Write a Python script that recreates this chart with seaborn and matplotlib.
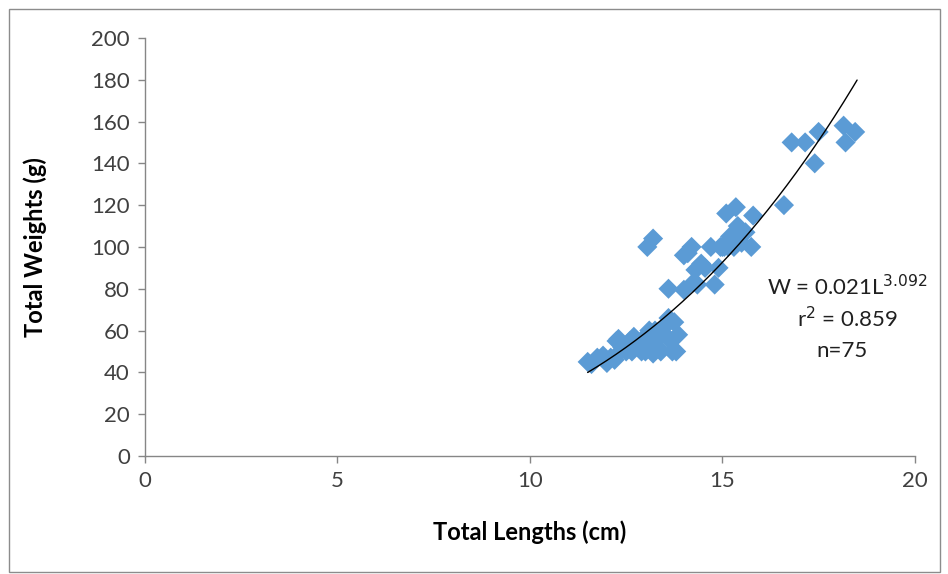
import matplotlib
matplotlib.use("Agg")
import matplotlib.pyplot as plt
import seaborn as sns
import numpy as np
import pandas as pd
from matplotlib.patches import Rectangle

# Data (Total length cm, Total weight g)
lengths = [11.5, 11.6, 11.75, 11.9, 12.0, 12.1, 12.2, 12.25, 12.3, 12.4,
           12.5, 12.6, 12.65, 12.7, 12.8, 12.9, 12.95, 13.0, 13.05, 13.1,
           13.1, 13.2, 13.2, 13.3, 13.4, 13.45, 13.5, 13.6, 13.65, 13.7,
           13.75, 13.8, 13.85, 13.05, 13.2, 13.6, 14.0, 14.0, 14.2, 14.3,
           14.35, 14.55, 14.7, 14.8, 14.9, 14.95, 15.05, 15.1, 15.15, 15.3,
           15.35, 15.4, 15.45, 15.6, 15.75, 15.8, 14.1, 14.45, 15.0, 15.5,
           16.6, 16.8, 17.15, 17.4, 17.5, 18.15, 18.2, 18.45, 12.35, 12.85,
           13.25, 13.55, 14.25, 15.2, 13.35]
weights = [45, 44, 47, 48, 44.5, 47, 46, 55, 56, 52,
           50, 55, 50, 57, 53, 50, 56, 50, 58, 55,
           60, 49, 50, 52, 50, 59, 62, 66, 55, 50,
           64, 50, 58, 100, 104, 80, 79.5, 96, 100, 89,
           82, 90, 100, 82, 90, 100, 100, 116, 100, 100,
           119, 110, 108, 107, 100, 115, 97, 92, 100, 102,
           120, 150, 150, 140, 155, 158, 150, 155, 50, 52,
           60, 63, 83, 105, 57]

# Power trendline as drawn in the reference (W = a * L^b)
curve_a, curve_b = 0.0176, 3.164
curve_start, curve_end = 11.5, 18.5
fit_x = np.linspace(curve_start, curve_end, 200)
fit_y = curve_a * fit_x ** curve_b

eq_lines = [r"W = 0.021L$^{3.092}$", r"r$^{2}$ = 0.859", "n=75"]

df = pd.DataFrame({"L": lengths, "W": weights})

sns.set_theme(style="white")
plt.rcParams['font.family'] = ['Lato', 'DejaVu Sans']

fig = plt.figure(figsize=(9.48, 5.74), dpi=100)
ax = fig.add_axes([0.153, 0.2056, 0.812, 0.7284])

sns.scatterplot(data=df, x="L", y="W", ax=ax, marker="D", s=105,
                color="#5B9BD5", edgecolor="none", linewidth=0, zorder=2)
sns.lineplot(x=fit_x, y=fit_y, ax=ax, color="black", linewidth=1.0, zorder=3)

ax.set_xlim(0, 20)
ax.set_ylim(0, 200)
ax.set_xticks([0, 5, 10, 15, 20])
ax.set_yticks(np.arange(0, 201, 20))
ax.tick_params(axis="both", which="both", direction="out", length=5, width=1,
               color="#868686", labelsize=16, labelcolor="#404040",
               bottom=True, left=True, pad=6)
for side in ["top", "right"]:
    ax.spines[side].set_visible(False)
for side in ["left", "bottom"]:
    ax.spines[side].set_color("#868686")
    ax.spines[side].set_linewidth(1)

ax.set_xlabel("Total Lengths (cm)", fontsize=17, fontweight="bold", color="black")
ax.set_ylabel("Total Weights (g)", fontsize=17, fontweight="bold", color="black")
ax.xaxis.set_label_coords(0.5, -0.155)
ax.yaxis.set_label_coords(-0.128, 0.5)

ax.text(18.25, 81, eq_lines[0], fontsize=16, ha="center", va="center", color="#202020")
ax.text(18.25, 65.5, eq_lines[1], fontsize=16, ha="center", va="center", color="#202020")
ax.text(18.1, 50, eq_lines[2], fontsize=16, ha="center", va="center", color="#202020")

fig.patches.append(Rectangle((9 / 948, 0.003), 931 / 948, 1 - 9 / 574 - 0.003,
                             transform=fig.transFigure, fill=False,
                             edgecolor="#8c8c8c", linewidth=1))

fig.savefig("out.png", dpi=100, facecolor="white")
